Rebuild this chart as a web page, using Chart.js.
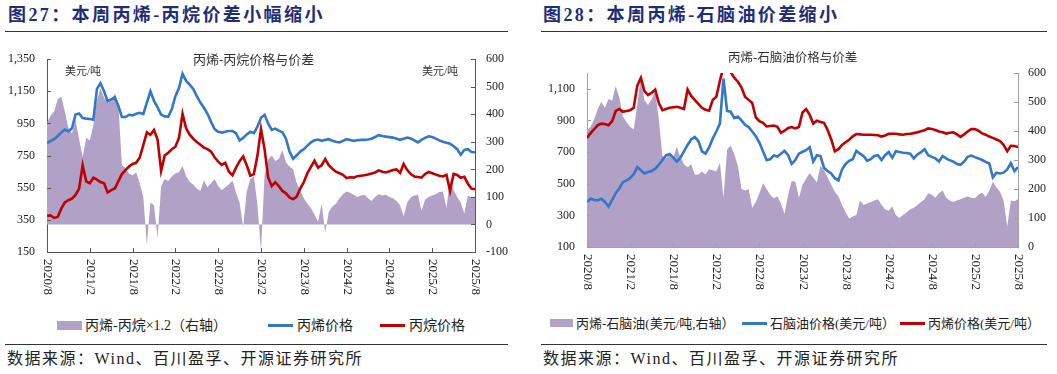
<!DOCTYPE html>
<html lang="zh-CN">
<head>
<meta charset="utf-8">
<title>丙烯价差</title>
<script src="https://cdn.jsdelivr.net/npm/chart.js@4.4.1/dist/chart.umd.min.js"></script>
<style>
  html, body { margin: 0; padding: 0; background: #fff; }
  body { width: 1057px; height: 374px; position: relative; overflow: hidden;
         font-family: "Liberation Serif", "Noto Sans CJK SC", serif; color: #222; }
  .abs { position: absolute; white-space: nowrap; }
  .fig-title { top: 5px; font-size: 18px; line-height: 20px; font-weight: bold; color: #1f2d78; letter-spacing: 2.4px; }
  .rule { position: absolute; height: 1px; background: #333; }
  .src { top: 350px; font-size: 16px; line-height: 18px; letter-spacing: 1.5px; color: #222; }
  .inner { font-size: 13px; line-height: 14px; color: #333; }
  .unit { top: 65px; font-size: 11px; line-height: 12px; color: #333; }
  .leg { font-size: 14px; line-height: 16px; color: #222; }
  .leg-r { font-size: 13px; line-height: 15px; color: #222; }
  .box { position: absolute; background: #b1a1c7; }
  .ln { position: absolute; height: 3px; }
  canvas { position: absolute; }
</style>
</head>
<body>

<div class="abs fig-title" style="left:8px">图27：本周丙烯-丙烷价差小幅缩小</div>
<div class="rule" style="left:5px; width:503px; top:31px"></div>
<div class="abs fig-title" style="left:543px">图28：本周丙烯-石脑油价差缩小</div>
<div class="rule" style="left:541px; width:506px; top:31px"></div>

<canvas id="left" width="530" height="275" style="left:0; top:40px"></canvas>
<canvas id="right" width="527" height="275" style="left:530px; top:40px"></canvas>

<div class="abs inner" style="left:193px; top:53px">丙烯-丙烷价格与价差</div>
<div class="abs unit" style="left:65px">美元/吨</div>
<div class="abs unit" style="left:422px">美元/吨</div>
<div class="abs inner" style="left:728px; top:51px; font-size:12.5px">丙烯-石脑油价格与价差</div>

<div class="box" style="left:57px; top:321px; width:25px; height:9px"></div>
<div class="abs leg" style="left:85px; top:318px">丙烯-丙烷×1.2（右轴）</div>
<div class="ln" style="left:268px; top:324px; width:25px; background:#3377c9"></div>
<div class="abs leg" style="left:297px; top:318px">丙烯价格</div>
<div class="ln" style="left:380px; top:324px; width:25px; background:#c00000"></div>
<div class="abs leg" style="left:409px; top:318px">丙烷价格</div>

<div class="box" style="left:550px; top:319px; width:23px; height:8px"></div>
<div class="abs leg-r" style="left:576px; top:316px">丙烯-石脑油(美元/吨,右轴）</div>
<div class="ln" style="left:742px; top:322px; width:25px; background:#3377c9"></div>
<div class="abs leg-r" style="left:770px; top:316px">石脑油价格(美元/吨）</div>
<div class="ln" style="left:900px; top:322px; width:25px; background:#c00000"></div>
<div class="abs leg-r" style="left:928px; top:316px">丙烯价格(美元/吨）</div>

<div class="rule" style="left:5px; width:503px; top:344px"></div>
<div class="abs src" style="left:7px">数据来源：Wind、百川盈孚、开源证券研究所</div>
<div class="rule" style="left:541px; width:506px; top:344px"></div>
<div class="abs src" style="left:543px">数据来源：Wind、百川盈孚、开源证券研究所</div>

<script>
// half-month points from 2020/8 to 2025/8, ticks every 6 months
const tickLabels = ['2020/8', '2021/2', '2021/8', '2022/2', '2022/8', '2023/2',
                    '2023/8', '2024/2', '2024/8', '2025/2', '2025/8'];
const pointsPerTick = 12;

// 图27 丙烯-丙烷
const lPropylene = [828,840,852,872,893,912,900,920,1005,1012,
  984,980,978,974,1165,1200,1150,1088,1100,1112,
  1060,990,990,1004,1000,1010,1016,1008,1080,1150,
  1090,1050,1005,994,992,1040,1120,1170,1260,1215,
  1192,1165,1120,1080,1048,1010,960,915,898,893,
  898,903,903,890,845,860,882,898,890,930,
  985,1004,950,910,918,905,895,855,775,730,
  752,775,790,812,832,845,850,842,848,852,
  843,836,832,842,852,847,842,846,848,848,
  850,855,866,877,872,868,865,862,855,848,
  855,862,856,845,832,848,860,870,866,856,
  845,836,830,824,808,790,755,785,790,772,
  771];
const lPropane = [375,378,362,368,420,458,472,482,505,545,
  690,590,578,612,600,585,578,520,535,545,
  590,635,660,682,698,705,738,815,895,880,
  910,850,655,750,768,790,805,860,1010,920,
  880,855,835,818,800,790,775,740,712,692,
  705,650,628,675,715,745,690,625,635,750,
  915,790,615,560,585,560,530,515,490,478,
  495,545,585,640,680,718,675,690,728,690,
  668,650,640,630,610,615,613,622,625,628,
  632,638,645,658,650,645,652,660,664,642,
  698,660,635,620,617,613,635,648,640,632,
  625,620,630,530,636,630,612,618,575,545,
  540];
const lSpread = [369,395,410,455,465,410,350,330,380,310,
  245,315,305,360,450,495,460,440,450,475,
  440,215,205,185,178,190,150,100,-75,80,
  70,-50,140,165,158,175,185,190,212,175,
  155,145,130,122,160,135,150,165,140,125,
  135,145,160,115,80,-10,120,165,175,70,
  -98,180,235,250,230,238,270,225,210,200,
  150,125,95,75,60,35,10,75,-30,45,
  65,75,95,110,120,115,108,100,105,108,
  95,85,100,110,105,108,100,95,85,70,
  30,80,98,105,108,50,90,100,105,110,
  118,120,60,165,125,100,80,40,105,98,
  95];
const lLeftTicks = [150, 350, 550, 750, 950, 1150, 1350];
const lRightTicks = [-100, 0, 100, 200, 300, 400, 500, 600];

// 图28 丙烯-石脑油
const rPropylene = [789,820,845,870,880,878,870,895,960,972,
  955,960,965,980,1120,1170,1085,1060,1075,1095,
  1010,965,972,980,984,986,980,972,1095,1055,
  1030,1005,980,968,962,1030,1050,1150,1240,1250,
  1205,1170,1145,1110,1050,1030,1010,920,895,885,
  862,865,868,860,822,835,852,858,850,858,
  950,972,935,880,898,890,885,840,780,705,
  718,745,762,778,800,814,812,810,810,810,
  808,806,798,805,815,816,816,812,810,814,
  816,820,826,832,838,850,846,840,830,825,
  817,822,825,812,796,812,830,845,845,835,
  818,810,798,790,780,770,745,705,740,738,
  732];
const rNaphtha = [385,405,398,395,405,385,355,398,440,470,
  510,520,535,560,605,585,565,574,580,595,
  620,650,679,688,665,640,665,705,745,780,
  795,770,705,690,730,785,830,880,1165,960,
  955,915,925,900,872,858,830,800,760,705,
  650,655,679,672,690,708,680,625,650,690,
  702,712,730,640,680,675,600,580,565,535,
  520,590,625,645,655,708,690,675,645,655,
  675,680,650,680,700,665,705,700,696,694,
  690,660,685,700,718,680,670,660,640,675,
  660,648,640,625,620,640,670,678,668,660,
  650,638,628,540,570,565,570,590,630,580,
  605];
const rSpread = [402,415,440,477,500,480,510,505,555,515,
  450,430,415,405,490,590,505,490,510,540,
  440,315,305,322,310,345,310,285,275,285,
  250,250,260,250,268,265,260,290,170,335,
  350,320,280,200,195,200,135,155,185,220,
  200,180,168,175,150,115,180,228,225,170,
  215,235,255,240,222,280,265,240,215,190,
  175,145,120,98,105,110,160,145,150,155,
  160,165,145,130,125,140,110,100,110,120,
  130,135,145,155,165,185,180,170,185,195,
  170,160,155,160,165,170,175,170,168,180,
  188,172,195,225,205,190,160,70,160,158,
  165];
const rLeftTicks = [100, 300, 500, 700, 900, 1100];
const rRightTicks = [0, 100, 200, 300, 400, 500, 600];

const BLUE = '#3377c9';
const RED = '#c00000';
const PURPLE = '#b1a1c7';

const toPoints = arr => arr.map((v, i) => ({ x: i, y: v }));

function yAxis(pos, min, max, ticks, width, pad, color) {
  return {
    type: 'linear', position: pos, min: min, max: max,
    grid: { display: false, drawTicks: false },
    border: { display: true, color: color },
    afterBuildTicks: s => { s.ticks = ticks.map(v => ({ value: v })); },
    afterFit: s => { s.width = width; },
    ticks: {
      padding: pad, color: '#222',
      font: { family: 'Liberation Serif', size: 12 },
      callback: v => v.toLocaleString('en-US')
    }
  };
}

function xAxis(height, color) {
  return {
    type: 'linear', min: 0, max: (tickLabels.length - 1) * pointsPerTick,
    grid: { display: false, drawTicks: false },
    border: { display: true, color: color },
    ticks: { display: false },
    afterBuildTicks: s => { s.ticks = tickLabels.map((_, k) => ({ value: k * pointsPerTick })); },
    afterFit: s => { s.height = height; }
  };
}

// inward tick marks + x labels reading top to bottom
const axisDeco = {
  id: 'axisDeco',
  afterDraw(chart, args, opts) {
    const { ctx, chartArea: a, scales } = chart;
    ctx.save();
    ctx.strokeStyle = opts.color;
    ctx.lineWidth = 1;
    scales.y.ticks.forEach(t => {
      const y = Math.round(scales.y.getPixelForValue(t.value)) + 0.5;
      ctx.beginPath(); ctx.moveTo(a.left, y); ctx.lineTo(a.left + 4, y); ctx.stroke();
    });
    scales.y1.ticks.forEach(t => {
      const y = Math.round(scales.y1.getPixelForValue(t.value)) + 0.5;
      ctx.beginPath(); ctx.moveTo(a.right, y); ctx.lineTo(a.right - 4, y); ctx.stroke();
    });
    ctx.fillStyle = '#222';
    ctx.font = '13px "Liberation Serif"';
    ctx.textAlign = 'left';
    ctx.textBaseline = 'middle';
    scales.x.ticks.forEach((t, k) => {
      const x = Math.round(scales.x.getPixelForValue(t.value)) + 0.5;
      ctx.beginPath(); ctx.moveTo(x, a.bottom); ctx.lineTo(x, a.bottom - 4); ctx.stroke();
      ctx.save();
      ctx.translate(x, a.bottom + 7);
      ctx.rotate(Math.PI / 2);
      ctx.fillText(tickLabels[k], 0, 0);
      ctx.restore();
    });
    ctx.restore();
  }
};

function buildChart(id, spread, blue, red, opts) {
  return new Chart(document.getElementById(id), {
    type: 'line',
    data: {
      datasets: [
        { data: toPoints(red), yAxisID: 'y', borderColor: RED, borderWidth: 2.6, order: 1 },
        { data: toPoints(blue), yAxisID: 'y', borderColor: BLUE, borderWidth: 2.6, order: 2 },
        { data: toPoints(spread), yAxisID: 'y1', borderColor: PURPLE, borderWidth: 0,
          backgroundColor: PURPLE, fill: 'origin', order: 3 }
      ]
    },
    options: {
      responsive: false,
      animation: false,
      devicePixelRatio: 1,
      layout: { padding: { top: opts.top, left: 0, right: 0, bottom: 0 } },
      elements: { point: { radius: 0 }, line: { tension: 0 } },
      plugins: {
        legend: { display: false },
        tooltip: { enabled: false },
        axisDeco: { color: opts.axisColor }
      },
      scales: {
        x: xAxis(opts.xHeight, opts.axisColor),
        y: yAxis('left', opts.yMin, opts.yMax, opts.yTicks, opts.yWidth, 12, opts.axisColor),
        y1: yAxis('right', opts.y1Min, opts.y1Max, opts.y1Ticks, opts.y1Width, opts.y1Pad, opts.axisColor)
      }
    },
    plugins: [axisDeco]
  });
}

buildChart('left', lSpread, lPropylene, lPropane, {
  top: 15, xHeight: 63, axisColor: '#555',
  yMin: 150, yMax: 1350, yTicks: lLeftTicks, yWidth: 47,
  y1Min: -100, y1Max: 600, y1Ticks: lRightTicks, y1Width: 55, y1Pad: 11
});

buildChart('right', rSpread, rNaphtha, rPropylene, {
  top: 33, xHeight: 68, axisColor: '#a0a0a0',
  yMin: 100, yMax: 1200, yTicks: rLeftTicks, yWidth: 57,
  y1Min: 0, y1Max: 600, y1Ticks: rRightTicks, y1Width: 39, y1Pad: 10
});
</script>
</body>
</html>
